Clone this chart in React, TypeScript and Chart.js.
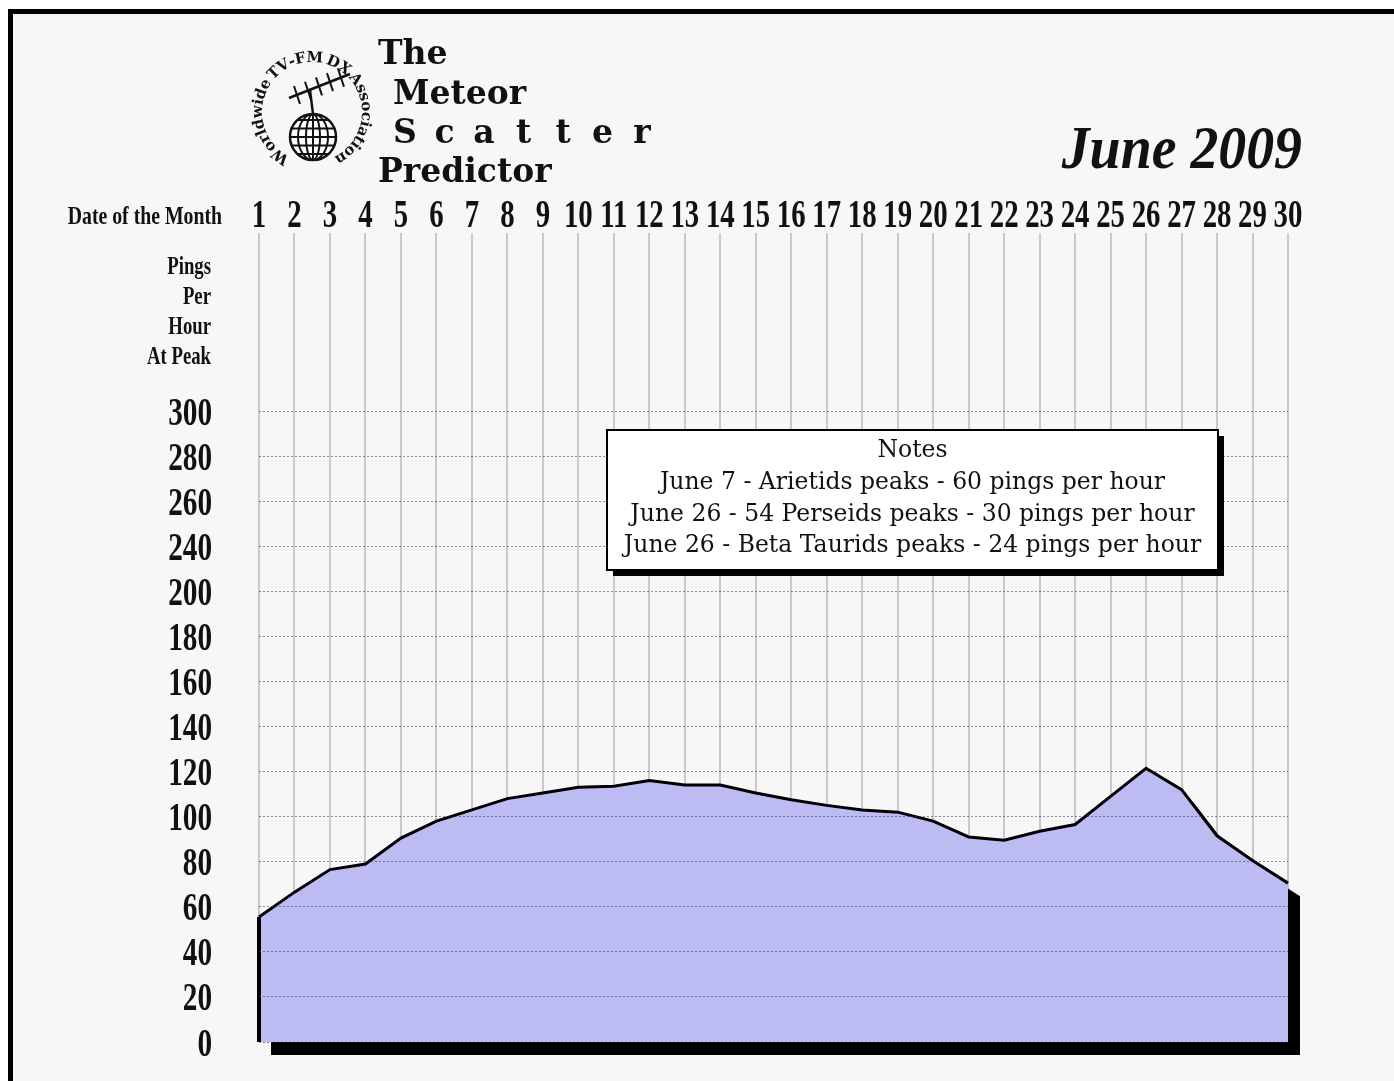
import React, { useEffect, useRef } from 'react';
import { Chart, registerables } from 'chart.js';

Chart.register(...registerables);

// ---------- data ----------
const days = ['1', '2', '3', '4', '5', '6', '7', '8', '9', '10', '11', '12', '13', '14', '15', '16', '17', '18', '19', '20', '21', '22', '23', '24', '25', '26', '27', '28', '29', '30'];
const pingsPerHour = [55.5, 66.5, 76.5, 79, 90.5, 98, 103, 108, 110.5, 113, 113.5, 116, 114, 114, 110.5, 107.5, 105, 103, 102, 98, 91, 89.5, 93.5, 96.5, 109, 121.5, 112, 91.5, 80.5, 70.5];
const yTickValues = [0, 20, 40, 60, 80, 100, 120, 140, 160, 180, 200, 220, 240, 260, 280];
const yTickLabels = ['0', '20', '40', '60', '80', '100', '120', '140', '160', '180', '200', '240', '260', '280', '300'];
const titleLines = ['The', 'Meteor', 'Scatter', 'Predictor'];
const logoText = 'Worldwide TV-FM DX Association';
const monthLabel = 'June 2009';
const xAxisLabel = 'Date of the Month';
const yAxisLabelLines = ['Pings', 'Per', 'Hour', 'At Peak'];
const notesTitle = 'Notes';
const notesLines = [
  'June 7 - Arietids peaks - 60 pings per hour',
  'June 26 - 54 Perseids peaks - 30 pings per hour',
  'June 26 - Beta Taurids peaks - 24 pings per hour',
];

const CONDENSED = '"Liberation Serif", "Times New Roman", serif';

function condensedText(ctx: CanvasRenderingContext2D, text: string, x: number, y: number, align: CanvasTextAlign, size: number, sx: number) {
  ctx.save();
  ctx.translate(x, y);
  ctx.scale(sx, 1);
  ctx.font = `bold ${size}px ${CONDENSED}`;
  ctx.textAlign = align;
  ctx.textBaseline = 'alphabetic';
  ctx.fillStyle = '#111';
  ctx.fillText(text, 0, 0);
  ctx.restore();
}

function drawLogo(ctx: CanvasRenderingContext2D) {
  const cx = 312, cy = 112, r = 50;
  ctx.save();
  ctx.fillStyle = '#111';
  ctx.font = 'bold 15px "DejaVu Serif", serif';
  ctx.textAlign = 'center';
  ctx.textBaseline = 'alphabetic';
  const start = (116 * Math.PI) / 180;
  const end = (424 * Math.PI) / 180;
  const widths = Array.from(logoText).map((ch) => ctx.measureText(ch).width * (ch === ' ' ? 0.6 : 1));
  const total = widths.reduce((a, b) => a + b, 0);
  const extra = ((end - start) * r - total) / (logoText.length - 1);
  let s = 0;
  for (let i = 0; i < logoText.length; i++) {
    const a = start + (s + widths[i] / 2) / r;
    s += widths[i] + extra;
    ctx.save();
    ctx.translate(cx + r * Math.cos(a), cy + r * Math.sin(a));
    ctx.rotate(a + Math.PI / 2);
    ctx.fillText(logoText[i], 0, 0);
    ctx.restore();
  }
  // globe
  const gx = 313, gy = 137, gr = 23;
  ctx.strokeStyle = '#111';
  ctx.lineWidth = 2.5;
  ctx.fillStyle = '#fff';
  ctx.beginPath();
  ctx.arc(gx, gy, gr, 0, Math.PI * 2);
  ctx.fill();
  ctx.stroke();
  ctx.save();
  ctx.beginPath();
  ctx.arc(gx, gy, gr, 0, Math.PI * 2);
  ctx.clip();
  ctx.lineWidth = 2;
  for (let k = -2; k <= 2; k++) {
    ctx.beginPath();
    ctx.moveTo(gx - gr, gy + k * 8.5);
    ctx.lineTo(gx + gr, gy + k * 8.5);
    ctx.stroke();
  }
  [7, 15].forEach((w) => {
    ctx.beginPath();
    ctx.ellipse(gx, gy, w, gr, 0, 0, Math.PI * 2);
    ctx.stroke();
  });
  ctx.beginPath();
  ctx.moveTo(gx, gy - gr);
  ctx.lineTo(gx, gy + gr);
  ctx.stroke();
  ctx.restore();
  // antenna
  ctx.lineWidth = 2.5;
  ctx.beginPath();
  ctx.moveTo(gx, gy - gr);
  ctx.lineTo(gx - 3, 90);
  ctx.stroke();
  ctx.beginPath();
  ctx.moveTo(289, 98);
  ctx.lineTo(350, 74);
  ctx.stroke();
  ctx.lineWidth = 2;
  for (let k = 0; k < 5; k++) {
    const bx = 297 + k * 11, by = 95 - k * 4.3;
    ctx.beginPath();
    ctx.moveTo(bx - 3, by - 9);
    ctx.lineTo(bx + 3, by + 9);
    ctx.stroke();
  }
  ctx.restore();
}

const decorPlugin = {
  id: 'meteorDecor',
  beforeDraw(chart: any) {
    const { ctx, width, height } = chart;
    ctx.save();
    ctx.fillStyle = '#ffffff';
    ctx.fillRect(0, 0, width, height);
    ctx.fillStyle = '#f7f7f7';
    ctx.fillRect(12, 13, width, height);
    ctx.fillStyle = '#000';
    ctx.fillRect(8, 9, 5, height);
    ctx.fillRect(8, 9, width, 5);
    ctx.restore();
  },
  beforeDatasetsDraw(chart: any) {
    const { ctx } = chart;
    const pts = chart.getDatasetMeta(0).data;
    const base = chart.scales.y.getPixelForValue(0);
    const dx = 12, dy = 13;
    ctx.save();
    ctx.fillStyle = '#000';
    ctx.beginPath();
    ctx.moveTo(pts[0].x + dx, base + dy);
    pts.forEach((p: any) => ctx.lineTo(p.x + dx, p.y + dy));
    ctx.lineTo(pts[pts.length - 1].x + dx, base + dy);
    ctx.closePath();
    ctx.fill();
    ctx.restore();
  },
  afterDatasetsDraw(chart: any) {
    const { ctx } = chart;
    const pts = chart.getDatasetMeta(0).data;
    const base = chart.scales.y.getPixelForValue(0);
    ctx.save();
    ctx.strokeStyle = '#000';
    ctx.lineWidth = 4;
    ctx.beginPath();
    ctx.moveTo(pts[0].x, pts[0].y);
    ctx.lineTo(pts[0].x, base);
    ctx.stroke();
    ctx.restore();
  },
  afterDraw(chart: any) {
    const { ctx, chartArea } = chart;
    const xs = chart.scales.x;
    const ys = chart.scales.y;

    // y tick labels
    ys.ticks.forEach((t: any, i: number) => {
      const y = ys.getPixelForValue(t.value);
      condensedText(ctx, yTickLabels[i], chartArea.left - 47, y + 13.5, 'right', 40, 0.73);
    });
    // x tick labels (dates)
    days.forEach((d, i) => {
      condensedText(ctx, d, xs.getPixelForTick(i), chartArea.top - 6, 'center', 40, 0.72);
    });
    // axis captions
    condensedText(ctx, xAxisLabel, 222, chartArea.top - 9, 'right', 26, 0.76);
    yAxisLabelLines.forEach((line, i) => {
      condensedText(ctx, line, 211, 274 + i * 30, 'right', 25, 0.75);
    });

    // title block
    ctx.save();
    ctx.fillStyle = '#111';
    ctx.font = 'bold 33px "DejaVu Serif", serif';
    ctx.textBaseline = 'alphabetic';
    ctx.textAlign = 'left';
    ctx.fillText(titleLines[0], 378, 64);
    ctx.fillText(titleLines[1], 393, 104);
    ctx.textAlign = 'center';
    const sc = titleLines[2];
    for (let i = 0; i < sc.length; i++) {
      ctx.fillText(sc[i], 405 + i * 39.5, 143);
    }
    ctx.textAlign = 'left';
    ctx.fillText(titleLines[3], 378, 182);
    ctx.restore();

    drawLogo(ctx);

    // month
    ctx.save();
    ctx.fillStyle = '#111';
    ctx.translate(1302, 168);
    ctx.scale(0.9, 1);
    ctx.font = 'italic bold 62px "Liberation Serif", serif';
    ctx.textAlign = 'right';
    ctx.textBaseline = 'alphabetic';
    ctx.fillText(monthLabel, 0, 0);
    ctx.restore();

    // notes box
    const bx = 607, by = 430, bw = 611, bh = 140;
    ctx.save();
    ctx.fillStyle = '#000';
    ctx.fillRect(bx + 6, by + 6, bw, bh);
    ctx.fillStyle = '#fff';
    ctx.fillRect(bx, by, bw, bh);
    ctx.strokeStyle = '#000';
    ctx.lineWidth = 2;
    ctx.strokeRect(bx, by, bw, bh);
    ctx.fillStyle = '#111';
    ctx.font = '23.5px "DejaVu Serif", serif';
    ctx.textAlign = 'center';
    ctx.textBaseline = 'middle';
    const cx = bx + bw / 2;
    ctx.fillText(notesTitle, cx, 451);
    notesLines.forEach((line, i) => ctx.fillText(line, cx, 483 + i * 31.5));
    ctx.restore();
  },
};

export default function App() {
  const canvasRef = useRef<HTMLCanvasElement | null>(null);

  useEffect(() => {
    const canvas = canvasRef.current;
    if (!canvas) return;
    const chart = new Chart(canvas, {
      type: 'line',
      data: {
        labels: days,
        datasets: [
          {
            data: pingsPerHour,
            borderColor: '#000',
            borderWidth: 3,
            backgroundColor: '#bcbbf2',
            fill: 'origin',
            pointRadius: 0,
            tension: 0,
            borderJoinStyle: 'miter',
          },
        ],
      },
      options: {
        responsive: false,
        animation: false,
        events: [],
        layout: { padding: { left: 0, top: 0, right: 106, bottom: 39 } },
        plugins: {
          legend: { display: false },
          tooltip: { enabled: false },
          title: { display: false },
        },
        scales: {
          x: {
            type: 'category',
            position: 'top',
            offset: false,
            grid: { color: '#c9c9c9', lineWidth: 2, drawTicks: false, offset: false },
            border: { display: false },
            ticks: { display: false },
            afterFit: (s: any) => {
              s.height = 233;
            },
          },
          y: {
            type: 'linear',
            min: 0,
            max: 359,
            grid: { color: 'rgba(50,50,80,0.55)', lineWidth: 1, drawTicks: false, z: 1 },
            border: { display: false, dash: [2, 2] },
            ticks: { display: false },
            afterBuildTicks: (s: any) => {
              s.ticks = yTickValues.map((v) => ({ value: v }));
            },
            afterFit: (s: any) => {
              s.width = 259;
            },
          },
        },
      },
      plugins: [decorPlugin],
    } as any);
    return () => chart.destroy();
  }, []);

  return (
    <div style={{ position: 'absolute', left: 0, top: 0, width: 1394, height: 1081, overflow: 'hidden', background: '#fff' }}>
      <canvas ref={canvasRef} width={1394} height={1081} style={{ display: 'block' }} />
    </div>
  );
}
